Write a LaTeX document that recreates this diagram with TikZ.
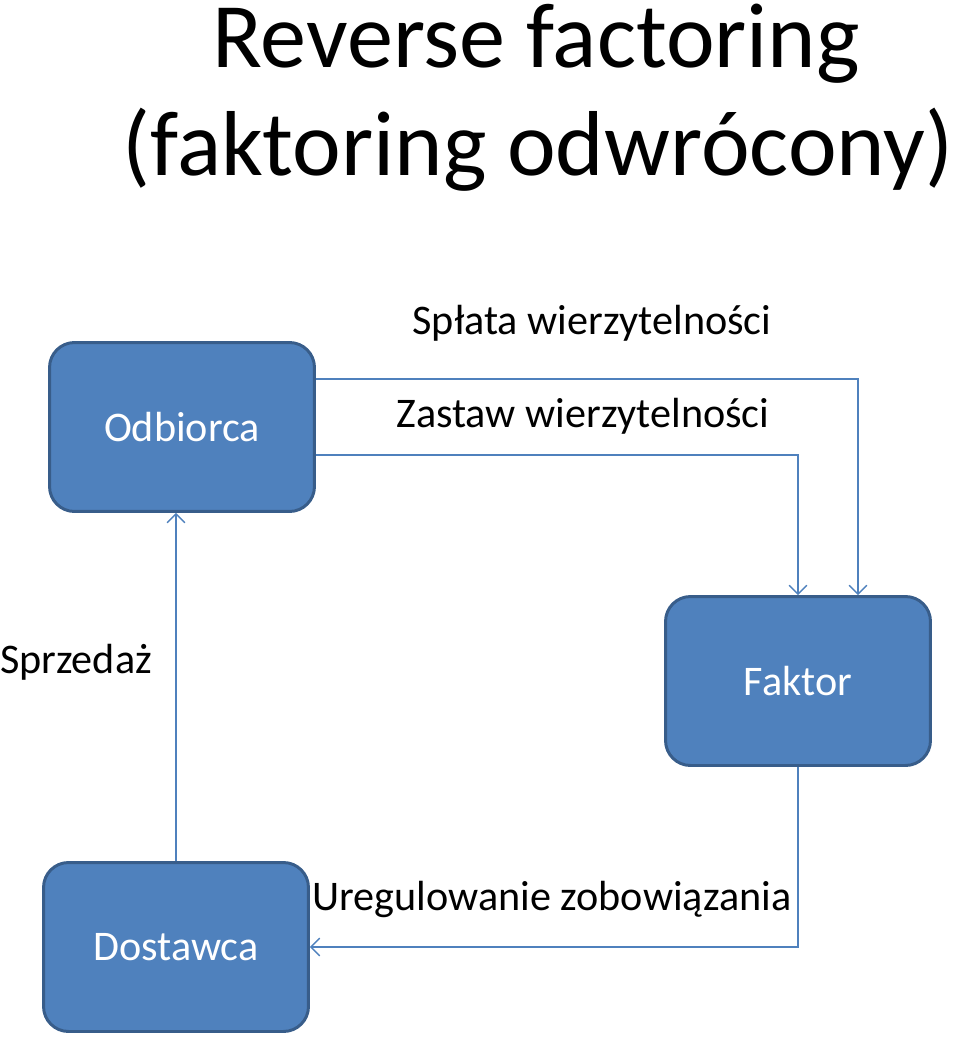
\documentclass[tikz,border=0pt]{standalone}
\usepackage{fontspec}
\setmainfont{Carlito}
\usetikzlibrary{positioning, arrows.meta}
\definecolor{boxblue}{RGB}{79,129,189}
\definecolor{boxedge}{RGB}{56,93,138}
\tikzset{
    party/.style={draw=boxedge, line width=1.7pt, fill=boxblue, text=white, rounded corners=0.5cm, minimum width=5.3cm, minimum height=3.38cm, font=\fontsize{24}{29}\selectfont},
    flow/.style={draw=boxblue, line width=0.8pt, -{Straight Barb[length=5pt, width=10pt]}},
    caption/.style={font=\fontsize{24}{29}\selectfont, inner sep=0pt},
    headline/.style={font=\fontsize{52.5}{63}\selectfont, inner sep=0pt}
}
\begin{document}
\begin{tikzpicture}[x=0.02cm, y=-0.02cm]
    \useasboundingbox (0,0) rectangle (960,1041);

    % Title
    \node[headline] (title1) at (536, 44) {Reverse factoring};
    \node[headline] (title2) at (538, 150) {(faktoring odwrócony)};

    % Parties
    \node[party] (odbiorca) at (182, 427) {Odbiorca};
    \node[party] (faktor) at (798, 681) {Faktor};
    \node[party] (dostawca) at (176, 947) {Dostawca};

    % Flows
    \draw[flow] ([yshift=0.96cm]odbiorca.east) -| ([xshift=1.2cm]faktor.north);
    \draw[flow] ([yshift=-0.56cm]odbiorca.east) -| (faktor.north);
    \draw[flow] (faktor.south) |- (dostawca.east);
    \draw[flow] (dostawca.north) -- (dostawca.north |- odbiorca.south);

    % Labels
    \node[caption] (splata) at (592, 323) {Spłata wierzytelności};
    \node[caption] (zastaw) at (583, 416) {Zastaw wierzytelności};
    \node[caption] (sprzedaz) at (76, 662) {Sprzedaż};
    \node[caption] (uregulowanie) at (552, 899) {Uregulowanie zobowiązania};
\end{tikzpicture}
\end{document}
